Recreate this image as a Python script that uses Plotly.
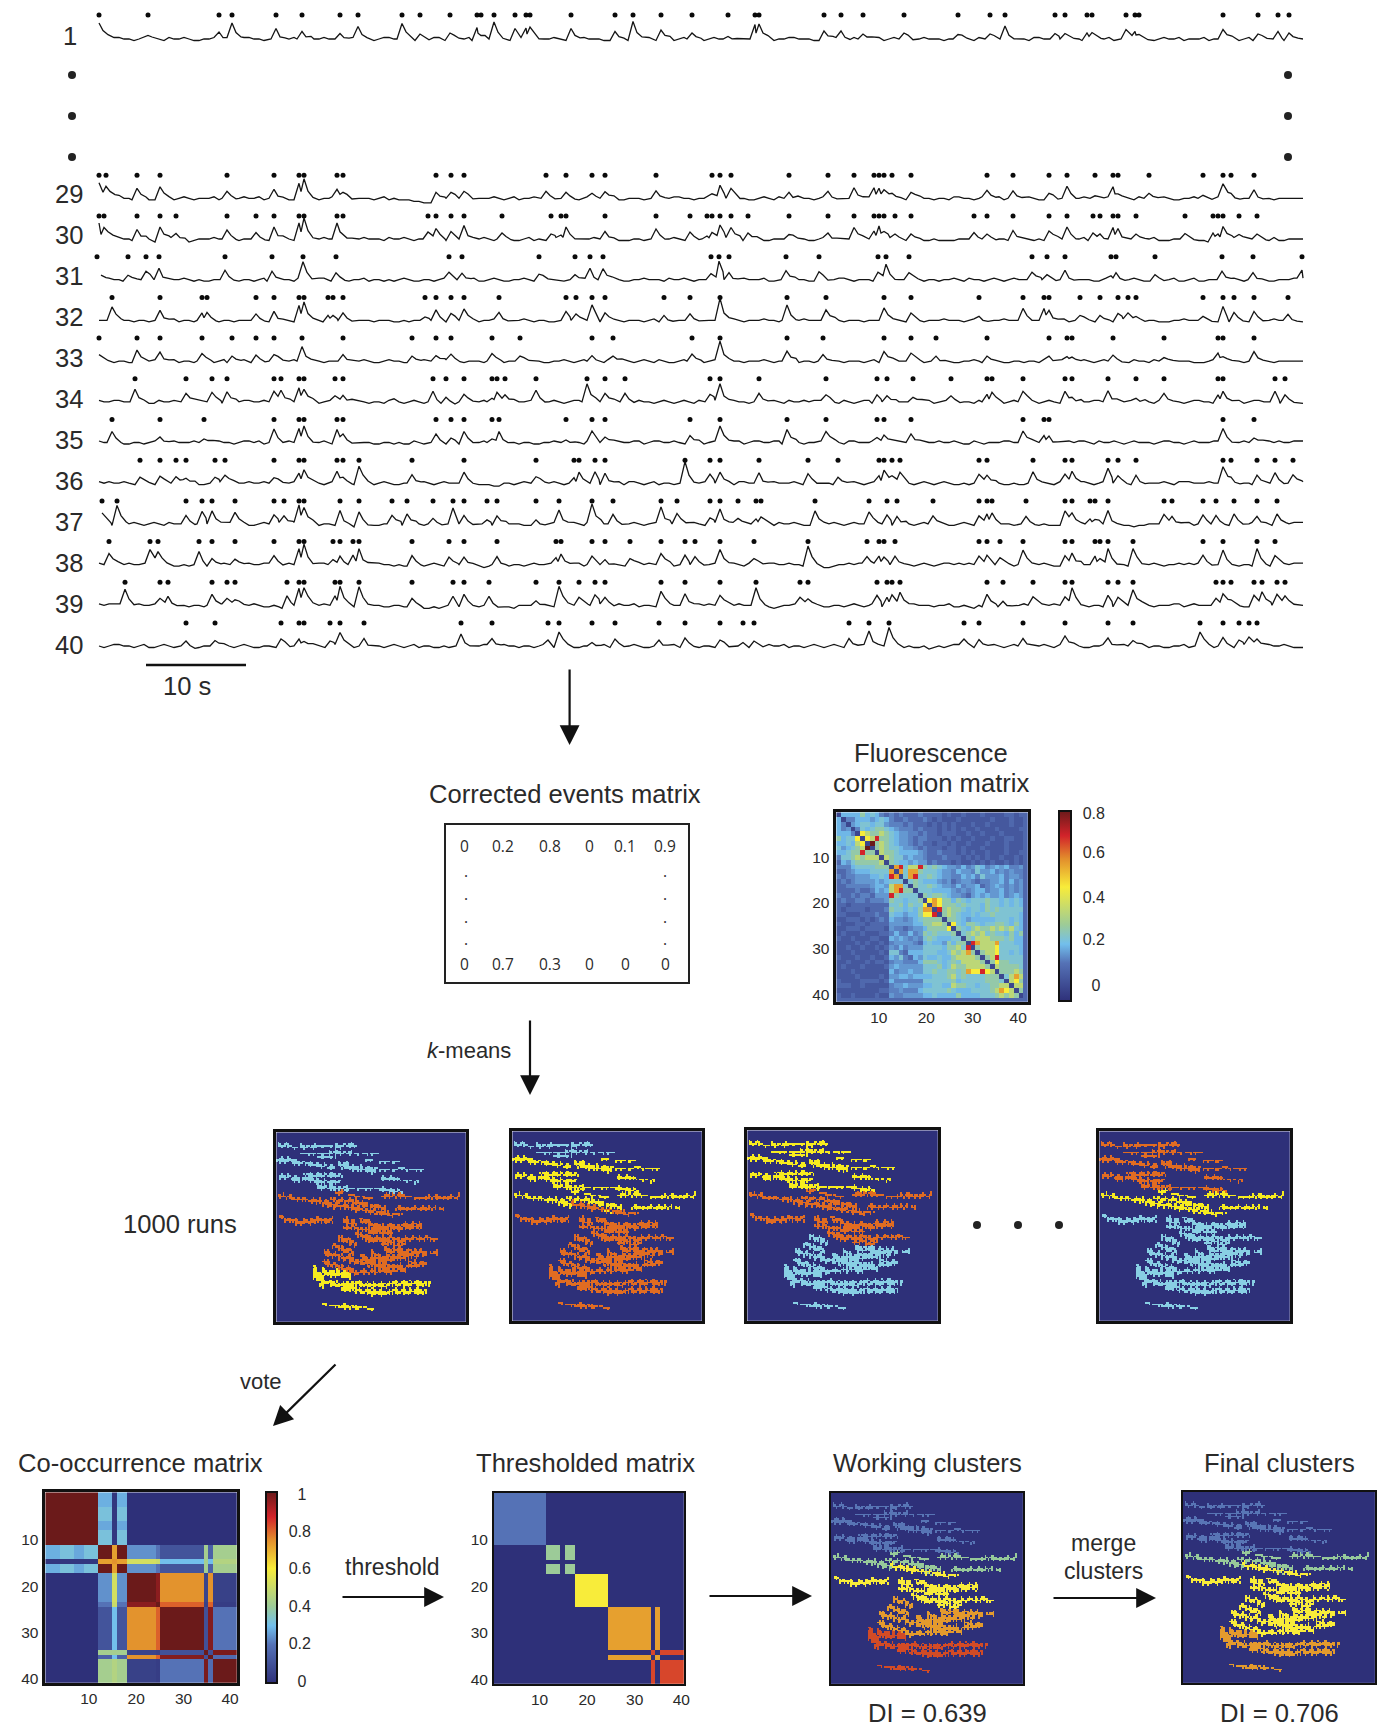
import numpy as np
import plotly.graph_objects as go

W, H = 1387, 1728
INK = "#2a2a2a"
FONT = "Liberation Sans"

# ---------- calcium traces: event times (s), transient heights, baseline levels at k s (B) and k+0.5 s (W) ----------
T1 = [0.0,4.9,12.0,13.3,17.7,20.3,24.1,25.9,30.3,32.1,35.1,37.8,38.2,39.5,41.6,42.7,43.1,47.2,51.6,53.4,56.2,59.3,62.9,65.6,66.0,72.5,74.2,76.4,80.5,85.9,89.1,90.6,95.6,96.6,98.8,99.3,102.7,103.6,104.0,112.4,115.9,117.9,119.0]
H1 = [10,5,7,16,9,9,7,11,14,5,6,13,5,17,9,11,12,9,6,16,9,6,4,13,15,8,8,5,6,6,5,13,7,4,6,5,8,9,6,11,5,6,6]
B1 = "754332343323343433233433234334333243342332432334333232343433333233343433233233433433332343323243343334332233433233243343"
W1 = "643243234234234324342343243243423424324324343423432434323243243234323432342434243243234234323432432432423243234324324323"
T29 = [0.0,0.7,3.8,6.1,12.8,17.5,20.0,20.5,23.8,24.4,33.7,35.2,36.5,44.7,46.7,49.3,50.6,55.7,61.3,62.1,63.2,69.0,72.9,75.5,77.5,78.0,78.5,79.3,81.2,88.8,91.4,95.0,96.8,99.6,101.4,101.9,105.0,110.4,112.4,113.2,115.5]
H29 = [8,6,10,13,7,9,15,18,9,6,9,6,7,7,6,5,8,6,6,13,10,6,7,12,9,10,10,5,6,8,6,5,12,4,10,6,5,3,13,5,7]
B29 = "865332233333233343223323343332221023343333233333243323333343343322334343332324333343324333433423233334234333233343232333"
W29 = "753232324234324323324234323243210134323424343232332423243432323432423232423234232432343243243324324234323342343242342233"
T30 = [0.0,0.5,3.8,6.1,7.7,12.8,15.7,17.5,20.0,20.5,23.8,24.4,32.9,33.7,35.2,36.5,40.3,45.2,46.2,46.7,50.6,55.7,59.1,60.8,61.3,62.1,63.2,64.9,69.0,72.9,75.5,77.5,78.0,78.5,79.6,81.2,87.5,88.8,91.4,95.0,96.8,99.4,100.1,101.4,101.9,103.7,108.6,111.4,111.9,112.4,114.0,115.8]
H30 = [10,7,11,12,7,9,5,12,16,21,16,6,7,12,9,12,6,5,4,12,9,10,7,3,8,14,13,6,6,6,13,8,13,9,5,5,5,5,10,8,12,6,5,10,9,5,7,6,5,14,6,5]
B30 = "764323342133332332233333323334333332323332243333333222333333233243423232333333343332223333322333433233433322332133233223"
W30 = "653241323234323423423243234323423223434232322432342323232423324323233432423243232323223432323224324324233423222324332423"
T31 = [-0.2,2.9,4.7,6.0,12.6,17.3,20.4,23.7,35.0,36.3,44.0,47.6,49.1,50.4,61.2,62.0,63.0,68.7,72.0,77.9,78.7,81.0,93.3,94.8,96.6,101.2,101.7,105.6,112.3,115.4,120.3]
H31 = [4,6,10,10,8,10,18,7,9,8,7,5,10,11,6,20,7,9,8,9,14,7,6,5,8,4,7,5,10,7,8]
B31 = "543234433332332332334342323233332332332332332333343332333433332333323332324333233333233433333343323323233233232333332233"
W31 = "432323234223423242323243234322423243242423424323423423432342343243423432434232423423342324243432423243242324242324233234"
T32 = [1.3,6.1,10.3,10.8,15.7,17.5,20.0,20.5,22.9,23.4,24.4,32.6,33.7,35.2,36.5,40.0,46.7,47.7,49.3,50.6,56.5,59.1,62.1,68.8,72.7,78.5,81.2,88.0,92.4,94.5,95.0,98.1,100.1,101.9,102.9,103.7,110.4,112.4,113.5,115.5,118.9]
H32 = [12,10,6,8,5,9,15,17,5,5,6,5,9,7,13,8,9,8,14,9,5,8,22,17,12,14,9,4,12,12,10,5,5,7,6,4,4,14,8,9,6]
B32 = "333332332333233332233333333333223333332332333233332333332232233333332233333333333223333332333333323333343322333322323333"
W32 = "343233243242323423324323423232332424233423423232342323243232332423433243242323232323432423433232434232432323433233232432"
T33 = [0.0,3.8,6.1,10.3,13.3,15.7,17.5,20.3,24.4,31.3,33.7,35.2,39.3,42.1,49.3,51.4,59.3,62.1,68.8,72.4,78.5,81.2,83.7,88.8,95.0,96.8,97.3,101.4,106.5,111.9,112.4,115.5]
H33 = [5,11,9,6,5,6,8,16,8,5,7,7,6,5,7,5,7,20,10,5,11,8,5,5,5,6,4,6,5,8,6,8]
B33 = "433233332333323233433333323324323333233333333233332433334233333333333323333333233333232333323323323333323233332333333333"
W33 = "423234243242434322342423234233234243232423432342422342423243242323423432432324243423323423232342434243243423322423243233"
T34 = [3.6,8.7,11.3,12.8,17.5,18.2,20.0,20.5,23.6,24.4,33.4,34.7,36.5,39.3,39.8,40.6,43.7,48.8,50.6,52.6,61.1,62.1,66.0,72.7,77.8,78.8,81.4,85.2,88.8,89.3,92.4,96.6,97.3,100.9,103.7,106.5,111.9,112.4,117.6,118.6]
H34 = [14,10,8,10,12,10,14,14,6,8,9,6,6,5,8,7,10,18,10,7,9,18,7,7,7,6,6,6,6,8,12,9,6,11,5,7,7,9,9,7]
B34 = "434322433343333433443324324234333322343343343333433333433333423332433433442334333334332344333424234343442343334333434323"
W34 = "343232342434244342332433243325242421434234342424342442324242342433342344324242343242433234242333423432324243243243243432"
T35 = [1.3,6.1,10.5,17.5,20.0,20.5,23.8,24.4,33.7,35.2,36.5,39.3,40.0,46.7,49.3,50.6,59.1,62.1,68.8,72.7,77.8,78.5,81.2,92.4,94.5,95.0,112.4,115.5]
H35 = [11,7,5,12,14,15,13,7,7,6,11,5,11,4,10,7,7,18,13,11,5,9,7,13,7,5,14,6]
B35 = "432233233333433443343333333323323332233332232332343343434333432343434333443433334443433233343334344343333334333343333443"
W35 = "332324243424324324234242423232242423324223323423242434243423243424342423342434243343342423432432434234243243243432424334"
T36 = [4.1,6.1,7.7,8.7,11.6,12.6,17.5,20.0,20.5,23.8,24.4,26.0,31.3,36.5,43.7,47.5,48.0,49.6,50.6,58.6,61.1,62.1,66.0,70.9,73.9,78.0,78.5,79.3,80.1,88.0,88.8,93.4,96.6,97.3,100.9,101.9,103.7,112.4,113.2,115.8,117.6,119.4]
H36 = [6,7,8,5,6,8,7,10,15,12,6,17,10,11,8,4,11,13,10,20,9,14,9,11,6,6,13,9,11,9,8,10,9,12,15,9,8,15,6,8,9,7]
B36 = "443333333323443433433333333333233333332213334333332244332333331343433332233333433233332233322333443333222333443433233333"
W36 = "334242423423343342342424324242324243322132423424323324243242432243243423323424324242423324232432334243332342433342323424"
T37 = [0.3,1.8,8.7,10.3,11.3,13.6,17.5,18.5,20.0,20.5,24.1,26.0,29.3,30.8,33.4,35.4,36.5,38.8,39.8,43.7,46.0,49.3,51.4,56.2,57.8,61.1,62.1,63.9,65.7,66.2,71.6,77.0,78.8,79.8,83.4,88.0,88.8,89.3,92.7,96.6,97.3,99.1,99.6,100.9,106.5,107.3,110.4,111.7,113.5,115.8,117.8]
H37 = [8,17,7,11,13,13,9,8,19,18,15,15,7,10,4,16,7,4,8,4,14,20,8,17,9,6,15,7,5,7,13,12,9,9,8,8,10,11,6,16,11,5,6,15,8,9,9,7,10,9,10]
B37 = "634333343333343233433323221123433333333333322333344333333444333323334332333333332333323333233322223342222333343332332333"
W37 = "523424234243423243342432112234242423423243232424233424242334242433423423342434324243324243324232133231212342423423243234"
T38 = [1.0,5.1,5.9,10.0,11.3,13.6,17.5,20.0,20.5,23.4,24.1,25.4,26.0,31.3,35.0,36.5,39.8,45.7,46.2,49.3,50.6,53.1,56.2,58.6,59.6,62.1,65.5,70.9,76.8,78.0,78.5,79.6,88.0,88.8,90.1,92.4,96.6,97.3,99.6,100.1,100.9,103.4,110.4,112.4,115.8,117.6]
H38 = [11,15,13,13,6,7,9,16,19,5,7,8,16,9,9,9,11,7,9,7,5,6,11,8,8,15,6,20,8,7,9,7,7,8,7,13,9,13,7,6,16,19,8,13,16,9]
B38 = "434433332232333434343343433343322332322212333443433233443433333334443432213443433333344444333433234333223333444333233243"
W38 = "343342423323423343234243342432232423231323243334243324334243243423343323123344243242433343424342323423312423334242322334"
T39 = [2.6,6.1,6.9,11.3,12.8,13.6,18.8,20.0,20.5,23.6,24.1,26.0,31.3,35.4,36.5,39.0,43.7,46.0,48.0,49.6,50.6,56.2,58.6,62.1,65.7,70.1,70.9,77.8,78.8,79.3,80.1,88.8,90.4,93.4,96.6,97.3,100.9,101.9,103.4,111.7,112.4,113.2,115.5,116.3,117.8,118.6]
H39 = [16,7,9,11,7,7,11,17,19,11,19,20,7,9,11,9,6,19,8,12,8,14,13,10,16,8,8,10,8,9,13,11,7,10,10,16,13,8,17,7,13,7,10,12,11,8]
B39 = "444343332233334332223433332232322113232312332333334343233332443443322332323333333333342233213343332231333333433332223434"
W39 = "343234223323423423132342323323231223323221323243423234324323334334213423232424243432323123124234243322424234243323234343"
T40 = [8.7,11.6,18.2,20.0,20.5,23.1,24.1,26.5,36.2,39.3,44.9,46.0,49.3,51.6,56.0,58.6,62.1,64.4,65.5,75.0,77.0,79.0,86.5,88.0,92.4,96.6,100.9,103.4,110.1,112.4,114.0,115.0,115.8]
H40 = [5,7,7,7,6,5,15,6,12,9,6,14,5,7,6,8,6,5,5,6,15,17,7,5,9,10,8,7,14,7,6,9,7]
B40 = "334332333223333323323333233233332322323433233333233233323323233232343233333433343321334343333233433233333232323333333433"
W40 = "243242423132424232432424324324243233234243324242324324232432324323234324242342342232243234242342342342424323434242424342"

TRACE_ROWS = [(1,T1,H1,B1,W1),(29,T29,H29,B29,W29),(30,T30,H30,B30,W30),(31,T31,H31,B31,W31),(32,T32,H32,B32,W32),(33,T33,H33,B33,W33),(34,T34,H34,B34,W34),
              (35,T35,H35,B35,W35),(36,T36,H36,B36,W36),(37,T37,H37,B37,W37),(38,T38,H38,B38,W38),(39,T39,H39,B39,W39),(40,T40,H40,B40,W40)]
TRANSIENT_TAIL = [(0.4,0.4),(0.9,0.13)]
ROW_LABELS = ["1","29","30","31","32","33","34","35","36","37","38","39","40"]

# ---------- colour scale shared by matrices ----------
CS = [[0,"#2e3079"],[0.2,"#5572b6"],[0.3,"#72bfec"],[0.4,"#9ccb98"],[0.6,"#f8ec3a"],[0.75,"#e28d2c"],[0.87,"#d2232a"],[1,"#6b1a1a"]]

# ---------- fluorescence correlation (upper triangle, level codes) ----------
CORR_UPPER = ["555575653232322232222121121112111122122","33555456532232223212111211111121112111","4566566433323222121212111211211112111",
"365677654333232221212121121112111121","98778765443323221222112112111211112","98b7765443233222121211211121122112",
"c78765443232212212112111211121112","78766544323222122121112111121111","8776555543223222121211211121121",
"876645443222322212121211211212","76554544232221211212121121211",
"ab688b7676544353465345453342","a6aa76665443544364453434332","6ab66765443354536444534432","6765554342344323344535344","766765443534452345434345",
"66655554343455344534344","7677654432454544534544","9a977576566676656565 6".replace(" ","")[:21],"a9777676665766565656","b787765665767666665",
"787655656676666654","77654555556665654","9657765667765755","765787787878655","67878676657575","7688877767555","ba888a666555","78889666655",
"7889665656","78b666666","79776667","8777766","777877","68a85","8976","887","75","5"]
CORR_LEVELS = {"0":.07,"1":.12,"2":.17,"3":.22,"4":.25,"5":.29,"6":.33,"7":.38,"8":.47,"9":.6,"a":.72,"b":.87,"c":1.0}
corr = np.zeros((40,40))
for i,s in enumerate(CORR_UPPER):
    s = (s+"2"*40)[:39-i]
    for k,ch in enumerate(s):
        v = -0.07+0.88*CORR_LEVELS[ch]
        corr[i,i+1+k] = corr[i+1+k,i] = v
for i in range(40):
    corr[i,i] = -0.07+0.88*CORR_LEVELS["0"]
corr[39,:] = corr[:,39] = -0.07+0.88*CORR_LEVELS["2"]
CORR_TICK_POS = [0,0.215,0.411,0.616,0.8]
CORR_TICK_TEXT = ["\u00a0\u00a00","0.2","0.4","0.6","0.8"]

# ---------- co-occurrence matrix: 13 blocks of neurons ----------
BLOCK_SIZES = [3,3,2,3,3,1,2,6,1,9,1,1,5]
COOC = [
[1,1,1,1,.28,.02,.28,0,0,0,0,0,0],
[1,1,1,1,.32,.02,.32,0,0,0,0,0,0],
[1,1,1,1,.27,.02,.27,0,0,0,0,0,0],
[1,1,1,1,.32,.02,.32,0,0,0,0,0,0],
[.28,.32,.27,.32,1,.72,1,.24,.2,.11,.42,.15,.42],
[.02,.02,.02,.02,.72,.74,.72,.52,.5,.3,.42,.3,.45],
[.28,.32,.27,.32,1,.72,1,.24,.2,.11,.42,.15,.42],
[0,0,0,0,.24,.52,.24,1,.96,.74,.06,.74,.05],
[0,0,0,0,.2,.5,.2,.96,1,.8,.05,.8,.04],
[0,0,0,0,.11,.3,.11,.74,.8,1,.1,.97,.2],
[0,0,0,0,.42,.42,.42,.06,.05,.1,1,.1,.98],
[0,0,0,0,.15,.3,.15,.74,.8,.97,.1,1,.18],
[0,0,0,0,.42,.45,.42,.05,.04,.2,.98,.18,1]]
THRESH_LABELS = [.2,.2,.2,.2,.4,0,.4,.6,.6,.72,.83,.72,.83]
COOC_TICK_POS = [.01,.207,.4,.601,.793,.99]
COOC_TICK_TEXT = ["\u00a0\u00a00","0.2","0.4","0.6","0.8","\u00a0\u00a01"]
idx = np.repeat(np.arange(13),BLOCK_SIZES)
cooc = np.array(COOC)[np.ix_(idx,idx)]
lab = np.array(THRESH_LABELS)
thresh = np.where(np.equal.outer(lab,lab),lab,0)[np.ix_(idx,idx)]

# ---------- cluster maps: streaks of active cells per group ----------
STREAKS_A1 = [(15,44,50,46,8),(52,48,78,50,3),(82,47,130,46,5),(130,46,180,47,3),(190,47,250,43,5),(78,68,130,70,3),(110,72,160,70,3),(165,68,235,70,5),(245,68,255,68,3),(272,70,320,72,3),(130,82,190,82,3)]
STREAKS_A2 = [(10,88,60,92,9),(60,94,120,102,8),(120,102,185,112,7),(195,100,240,108,9),(205,108,315,120,10),(235,112,310,122,10),(280,88,300,90,3),(325,92,380,93,3),(325,118,375,118,3),(380,115,455,118,3),(22,138,70,145,5),(60,146,130,150,9),(90,135,210,135,6),(125,152,180,158,8),(185,153,205,153,5),(330,143,385,148,7),(395,150,420,150,3),(430,153,440,153,5),(135,172,220,175,9),(220,176,330,176,3),(330,178,390,186,5)]
STREAKS_B = [(15,197,60,205,8),(60,206,130,213,8),(130,214,190,228,11),(175,208,240,214,8),(190,190,215,190,5),(225,193,300,207,4),(330,200,400,200,8),(400,200,460,205,3),(465,203,565,200,8),(240,218,340,235,9),(370,236,490,238,6),(505,238,515,238,6),(280,240,320,255,4)]
STREAKS_BS = [(190,225,260,238,10),(260,238,360,255,5),(360,255,390,255,3)]
STREAKS_C1 = [(20,265,70,275,8),(70,278,180,270,9),(212,270,250,285,9),(215,293,280,300,8),(262,268,320,292,9),(300,298,450,288,14),(280,305,360,312,5),(250,315,300,325,10),(280,330,400,333,11),(400,330,480,328,6),(480,332,495,332,4),(330,342,395,347,5)]
STREAKS_C2 = [(200,325,250,345,10),(178,348,240,372,10),(155,370,270,402,9),(150,398,250,432,9),(268,398,440,375,14),(340,362,462,372,9),(480,372,495,372,5),(285,405,400,418,14),(410,398,450,405,8),(400,415,465,405,6),(250,432,390,420,8),(340,432,415,412,5),(300,372,345,395,9),(265,380,300,392,6)]
STREAKS_D = [(120,425,150,460,30),(150,430,230,440,12),(125,450,200,470,10),(160,460,250,480,9),(220,465,330,470,11),(330,468,480,464,9),(210,482,330,490,7),(270,490,350,495,10),(350,487,465,490,9),(150,527,200,535,4),(200,533,250,535,5),(255,537,305,542,3)]
GROUPS = [STREAKS_A1,STREAKS_A2,STREAKS_B,STREAKS_BS,STREAKS_C1,STREAKS_C2,STREAKS_D]
EDGE_NOTCH = [0,1,0,0,-1,0,1,1,0,-1,0,0,1,-1,0,1,0,-1,-1,0,0,1,0]
N = 120; CELL = 578/N
mask = np.zeros((N,N))
for g,group in enumerate(GROUPS,1):
    for x0,y0,x1,y1,t in group:
        c0,c1 = int((x0-8)/CELL), int((x1-8)/CELL)
        count = max(1,int(round(t/CELL*1.5)))
        for c in range(c0,c1+1):
            f = (c-c0)/max(1,c1-c0)
            yc = (y0+(y1-y0)*f-5)/CELL
            r0 = int(round(yc-count/2)); r1 = r0+count
            if count>=2:
                r0 += EDGE_NOTCH[(c+g*3)%23]
                r1 += EDGE_NOTCH[(c*2+g)%23]
                r1 = max(r1,r0+1)
            else:
                if (c*7+g)%11==0:
                    continue
                r1 += 1 if EDGE_NOTCH[(c+g)%23]==1 else 0
            for r in range(r0,r1):
                if count>=3 and (c*3+r*5)%19==0:
                    continue
                mask[r,c] = g
BG,LB,OR,YE = "#2e3079","#88cfe4","#e06c22","#f7ec1f"
BL,GR,YW,AM,RD = "#5875b5","#97c99a","#f8ec3a","#e39a2d","#d24b26"
PANEL_COLOURS = {"run1":[BG,LB,LB,OR,OR,OR,OR,YE],"run2":[BG,LB,YE,YE,OR,OR,OR,OR],"run3":[BG,YE,YE,OR,OR,OR,LB,LB],"run4":[BG,OR,OR,YE,YE,LB,LB,LB],
                 "work":[BG,BL,BL,GR,YW,YW,AM,RD],"final":[BG,BL,BL,GR,YW,YW,YW,AM]}
PANEL_BOXES = {"run1":(275,467,1131,1323),"run2":(511,703,1130,1322),"run3":(746,939,1129,1322),"run4":(1098,1291,1130,1322),"work":(830,1024,1492,1685),"final":(1182,1376,1491,1684)}

# ---------- corrected events matrix text ----------
EVENTS_TOP = ["0","0.2","0.8","0","0.1","0.9"]
EVENTS_BOTTOM = ["0","0.7","0.3","0","0","0"]

# ---------- figure ----------
def fx(p): return p/W
def fy(p): return 1-p/H
fig = go.Figure()
layout = {}; anns = []; shapes = []
axn = [0]
def new_axes(x0,x1,y0,y1,xr,yr,xt=None,yt=None,frame=True,lw=2.5,xstand=0,ystand=1):
    axn[0]+=1; n=axn[0]; s="" if n==1 else str(n)
    inset = lw/2 if frame else 0
    common = dict(showgrid=False,zeroline=False,showline=frame,mirror=frame,linecolor="#111",linewidth=lw,ticks="",automargin=False,tickfont=dict(family=FONT,size=15.5,color=INK))
    xa = dict(common,domain=[fx(x0+inset),fx(x1-inset)],range=xr,anchor="y"+s,fixedrange=True)
    ya = dict(common,domain=[fy(y1-inset),fy(y0+inset)],range=yr,anchor="x"+s,fixedrange=True)
    if xt: xa.update(tickmode="array",tickvals=xt,ticktext=["10","20","30","40"],ticklabelstandoff=xstand)
    else: xa.update(showticklabels=False)
    if yt: ya.update(tickmode="array",tickvals=yt,ticktext=["10","20","30","40"],ticklabelstandoff=ystand)
    else: ya.update(showticklabels=False)
    layout["xaxis"+s]=xa; layout["yaxis"+s]=ya
    return "x"+s,"y"+s
def txt(x,y,s,size=25.6,anchor="center",family=FONT,color=INK):
    anns.append(dict(x=fx(x),y=fy(y),xref="paper",yref="paper",text=s,showarrow=False,xanchor=anchor,yanchor="middle",align="center",font=dict(family=family,size=size,color=color)))
def arrow(x0,y0,x1,y1):
    anns.append(dict(x=fx(x1),y=fy(y1),xref="paper",yref="paper",ax=x0-x1,ay=y0-y1,axref="pixel",ayref="pixel",showarrow=True,arrowhead=2,arrowsize=1.8,arrowwidth=2.2,arrowcolor="#111",standoff=0,text=""))

# traces
xa,ya = new_axes(80,1320,0,680,[-1.9,122.1],[680,0],frame=False)
def row_y(r): return 39 if r==1 else 646-40.7*(40-r)
for r,T,Hh,B,Wv in TRACE_ROWS:
    base = row_y(r)
    def lev(t):
        i = min(239,max(0,int(round(t*2))))
        return (int((Wv if i%2 else B)[i//2])-3)*1.5
    verts = []
    for i2 in range(240):
        g = i2/2
        if not any(t-0.8<g<t+1.2 for t in T):
            verts.append((g,lev(g)))
    verts.append((120.4,lev(119.5)))
    for i,(t,h) in enumerate(zip(T,Hh)):
        nxt = T[i+1] if i+1<len(T) else 1e9
        prev_close = i>0 and t-T[i-1]<1.0
        verts.append((t-0.3 if prev_close else t-0.5, max(lev(t),0.45*Hh[i-1]) if prev_close else lev(t-0.5)))
        verts.append((t,lev(t)+h))
        for dt,frac in TRANSIENT_TAIL:
            if t+dt<nxt-0.5:
                verts.append((t+dt,lev(t+dt)+h*frac))
    verts = sorted(v for v in verts if -0.05<=v[0]<=120.4)
    fig.add_trace(go.Scatter(x=[v[0] for v in verts],y=[base-v[1] for v in verts],mode="lines",line=dict(color="#151515",width=1.3),xaxis=xa,yaxis=ya,hoverinfo="skip",showlegend=False))
    fig.add_trace(go.Scatter(x=T,y=[base-(24 if r==1 else 23)]*len(T),mode="markers",marker=dict(color="#0a0a0a",size=5),xaxis=xa,yaxis=ya,hoverinfo="skip",showlegend=False,cliponaxis=False))
for lbl,(r,_,_,_,_) in zip(ROW_LABELS,TRACE_ROWS):
    if r==1: txt(70,36,lbl)
    else: txt(85,row_y(r)-1-3*(40-r)/11,lbl,anchor="right")

# ellipsis dots (rows omitted)
xp,yp = new_axes(0,W,0,H,[0,W],[H,0],frame=False)
ELL_X = [72,72,72,1288,1288,1288,977,1018,1059]
ELL_Y = [75,116,157,75,116,157,1225,1225,1225]
fig.add_trace(go.Scatter(x=ELL_X,y=ELL_Y,mode="markers",marker=dict(color="#222",size=8),xaxis=xp,yaxis=yp,hoverinfo="skip",showlegend=False))

# fluorescence correlation
xa,ya = new_axes(835,1029,811,1003,[-.5,39.5],[39.5,-.5],xt=[8.4,18.3,28.0,37.5],yt=[9,18.6,28.2,37.9])
fig.add_trace(go.Heatmap(z=corr,xaxis=xa,yaxis=ya,colorscale=CS,zmin=-0.07,zmax=0.81,hoverinfo="skip",
    colorbar=dict(x=fx(1059),xanchor="left",xpad=0,y=fy(906),yanchor="middle",ypad=0,lenmode="pixels",len=190,thicknessmode="pixels",thickness=12,outlinewidth=2,outlinecolor="#111",
        tickmode="array",tickvals=CORR_TICK_POS,ticktext=CORR_TICK_TEXT,ticks="outside",ticklen=8,tickcolor="rgba(0,0,0,0)",tickfont=dict(family=FONT,size=16,color=INK))))

# co-occurrence
xa,ya = new_axes(44,238,1491,1684,[-.5,39.5],[39.5,-.5],xt=[8.6,18.5,28.4,38.1],yt=[9.5,19.2,28.9,38.7])
fig.add_trace(go.Heatmap(z=cooc,xaxis=xa,yaxis=ya,colorscale=CS,zmin=0,zmax=1,hoverinfo="skip",
    colorbar=dict(x=fx(266),xanchor="left",xpad=0,y=fy(1587.5),yanchor="middle",ypad=0,lenmode="pixels",len=191,thicknessmode="pixels",thickness=11,outlinewidth=2,outlinecolor="#111",
        tickmode="array",tickvals=COOC_TICK_POS,ticktext=COOC_TICK_TEXT,ticks="outside",ticklen=8,tickcolor="rgba(0,0,0,0)",tickfont=dict(family=FONT,size=16,color=INK))))

# thresholded
xa,ya = new_axes(493,685,1492,1685,[-.5,39.5],[39.5,-.5],xt=[9.1,19.1,29.1,38.9],yt=[9.2,19,28.7,38.5],lw=1.6)
fig.add_trace(go.Heatmap(z=thresh,xaxis=xa,yaxis=ya,colorscale=CS,zmin=0,zmax=1,showscale=False,hoverinfo="skip"))

# cluster maps
for name,(x0,x1,y0,y1) in PANEL_BOXES.items():
    xa,ya = new_axes(x0,x1,y0,y1,[-.5,N-.5],[N-.5,-.5],lw=2.5 if name.startswith("run") else 1.8)
    cols = PANEL_COLOURS[name]
    scale = []
    for i,c in enumerate(cols):
        scale += [[i/8,c],[(i+1)/8,c]]
    fig.add_trace(go.Heatmap(z=mask,xaxis=xa,yaxis=ya,colorscale=scale,zmin=-.5,zmax=7.5,showscale=False,hoverinfo="skip"))

# text
txt(187,686,"10 s")
txt(565,794,"Corrected events matrix")
txt(931,753,"Fluorescence"); txt(931,783,"correlation matrix")
txt(469,1050,"<i>k</i>-means",size=22)
txt(179.5,1224,"1000 runs")
txt(261,1381,"vote",size=22)
txt(140,1463,"Co-occurrence matrix"); txt(585,1463,"Thresholded matrix"); txt(927,1463,"Working clusters"); txt(1279,1463,"Final clusters")
txt(392,1567,"threshold",size=23); txt(1103,1543,"merge",size=23); txt(1103,1571,"clusters",size=23)
txt(927,1713,"DI = 0.639"); txt(1279,1713,"DI = 0.706")

# events matrix box
shapes.append(dict(type="rect",xref="paper",yref="paper",x0=fx(445),x1=fx(689),y0=fy(824),y1=fy(983),line=dict(color="#222",width=2)))
COL_X = [464,503,550,589,625,665]
for x,a,b in zip(COL_X,EVENTS_TOP,EVENTS_BOTTOM):
    txt(x,846,a,size=15.5,family="Open Sans"); txt(x,964,b,size=15.5,family="Open Sans")
for x in (466,665):
    for y in (873,896,919,941):
        txt(x,y-2,".",size=15.5,family="Open Sans")

# scale bar and arrows
shapes.append(dict(type="line",xref="paper",yref="paper",x0=fx(146),x1=fx(246),y0=fy(665),y1=fy(665),line=dict(color="#111",width=2.5)))
arrow(569.6,668,569.6,745); arrow(530,1019,530,1095); arrow(337,1363,273,1426)
arrow(341,1597,444,1597); arrow(708,1596,812,1596); arrow(1052,1598,1156,1598)

fig.update_layout(width=W,height=H,autosize=False,margin=dict(l=0,r=0,t=0,b=0,pad=0),paper_bgcolor="white",plot_bgcolor="rgba(0,0,0,0)",annotations=anns,shapes=shapes,showlegend=False,**layout)
fig.write_html("out.html",config=dict(displayModeBar=False),post_script="document.body.style.margin='0';document.documentElement.style.overflow='hidden';")
